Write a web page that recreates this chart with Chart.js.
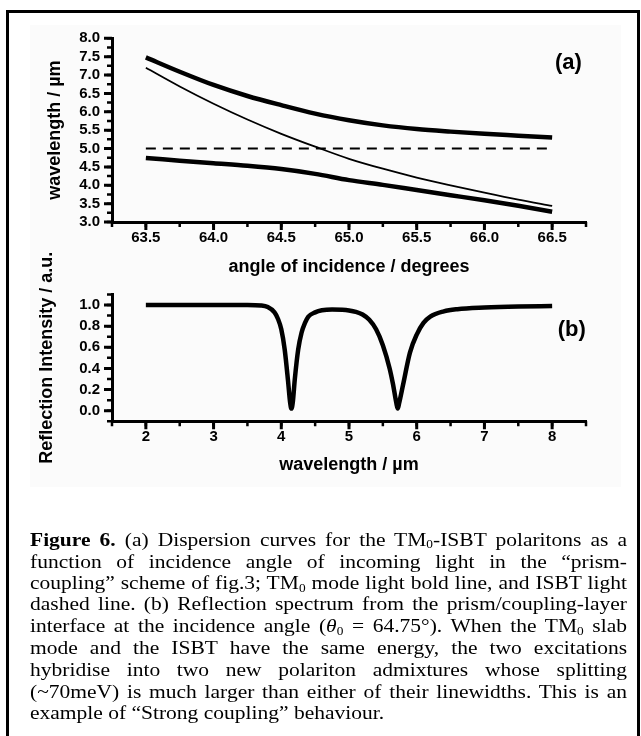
<!DOCTYPE html>
<html><head><meta charset="utf-8">
<script src="https://cdn.jsdelivr.net/npm/chart.js@4.4.1/dist/chart.umd.min.js"></script>
<style>
html,body{margin:0;padding:0;background:#fff;}
body{width:641px;height:736px;overflow:hidden;position:relative;}
#frame{position:absolute;left:6px;top:10px;width:634px;height:760px;border:3px solid #000;box-sizing:border-box;}
#panel{position:absolute;left:30px;top:25px;width:591px;height:462px;background:#fbfbfb;}
canvas{position:absolute;left:0;top:0;}
#cap{position:absolute;left:30px;top:529px;width:597px;font-family:'Liberation Serif','Times New Roman',serif;font-size:21.5px;line-height:24.8px;color:#000;transform:scaleY(0.875);transform-origin:0 0;}
#cap div{text-align:justify;text-align-last:justify;}
#cap div.last{text-align:left;text-align-last:left;}
sub{font-size:0.62em;vertical-align:-0.22em;line-height:0;}
</style></head>
<body>
<div id="frame"></div>
<div id="panel"></div>
<canvas id="ca" width="641" height="736"></canvas>
<canvas id="cb" width="641" height="736"></canvas>
<div id="cap">
<div><b>Figure 6.</b> (a) Dispersion curves for the TM<sub>0</sub>-ISBT polaritons as a</div>
<div>function of incidence angle of incoming light in the “prism-</div>
<div>coupling” scheme of fig.3; TM<sub>0</sub> mode light bold line, and ISBT light</div>
<div>dashed line. (b) Reflection spectrum from the prism/coupling-layer</div>
<div>interface at the incidence angle (<i>θ</i><sub>0</sub> = 64.75°). When the TM<sub>0</sub> slab</div>
<div>mode and the ISBT have the same energy, the two excitations</div>
<div>hybridise into two new polariton admixtures whose splitting</div>
<div>(~70meV) is much larger than either of their linewidths. This is an</div>
<div class="last">example of “Strong coupling” behaviour.</div>
</div>
<script>
// ---------- data: panel (a) ----------
const angles = [63.5, 63.75, 64.0, 64.25, 64.5, 64.75, 65.0, 65.25, 65.5, 65.75, 66.0, 66.25, 66.5];
const upperPolariton = [7.48, 7.09, 6.73, 6.43, 6.18, 5.95, 5.77, 5.63, 5.53, 5.46, 5.40, 5.35, 5.30];
const tm0Mode = [7.20, 6.69, 6.22, 5.79, 5.40, 5.05, 4.72, 4.45, 4.21, 4.00, 3.80, 3.61, 3.44];
const lowerPolariton = [4.74, 4.67, 4.60, 4.53, 4.44, 4.31, 4.14, 4.01, 3.87, 3.73, 3.59, 3.44, 3.28];
const isbtAngles = [63.5, 66.5];
const isbtLevel = [5.0, 5.0];
const angleTicks = [63.5, 64.0, 64.5, 65.0, 65.5, 66.0, 66.5];
const wavelengthTicksA = [3.0, 3.5, 4.0, 4.5, 5.0, 5.5, 6.0, 6.5, 7.0, 7.5, 8.0];

// ---------- data: panel (b) ----------
const wavelengths = [2.0, 3.0, 3.5, 3.7, 3.8, 3.9, 3.95, 4.0, 4.05, 4.1, 4.13, 4.15, 4.17, 4.2, 4.25, 4.3, 4.35, 4.4, 4.5, 4.6, 4.75, 4.9, 5.0, 5.1, 5.2, 5.3, 5.4, 5.5, 5.6, 5.65, 5.70, 5.72, 5.74, 5.8, 5.9, 6.0, 6.1, 6.2, 6.4, 6.6, 7.0, 7.5, 8.0];
const reflectance = [1.0, 1.0, 1.0, 0.995, 0.98, 0.93, 0.87, 0.77, 0.58, 0.28, 0.08, 0.02, 0.08, 0.30, 0.58, 0.74, 0.83, 0.89, 0.93, 0.95, 0.958, 0.955, 0.948, 0.935, 0.91, 0.86, 0.77, 0.62, 0.40, 0.25, 0.07, 0.02, 0.07, 0.25, 0.55, 0.72, 0.83, 0.89, 0.94, 0.96, 0.975, 0.985, 0.99];
const wavelengthTicksB = [2, 3, 4, 5, 6, 7, 8];
const intensityTicks = [0.0, 0.2, 0.4, 0.6, 0.8, 1.0];

// ---------- helpers ----------
const SANS = "'Liberation Sans', Arial, Helvetica, sans-serif";
const fontTick = {family: SANS, size: 15, weight: 'bold'};
const fontTitle = {family: SANS, size: 18, weight: 'bold'};
const pts = (xs, ys) => xs.map((x, i) => ({x, y: ys[i]}));
function steps(min, max, step) { const out = []; for (let v = min; v <= max + 1e-9; v += step) out.push(+v.toFixed(4)); return out; }

function tickPlugin(cfg) {
  return {
    id: 'tickMarks',
    afterDraw(chart) {
      const ctx = chart.ctx, a = chart.chartArea;
      ctx.save();
      ctx.strokeStyle = '#000';
      for (const id of Object.keys(cfg)) {
        const s = chart.scales[id], c = cfg[id];
        const draw = (vals, len, w) => {
          ctx.lineWidth = w; ctx.beginPath();
          vals.forEach(v => {
            const p = s.getPixelForValue(v);
            if (s.isHorizontal()) { ctx.moveTo(p, a.bottom); ctx.lineTo(p, a.bottom + len); }
            else { ctx.moveTo(a.left, p); ctx.lineTo(a.left - len, p); }
          });
          ctx.stroke();
        };
        draw(c.minor, 5, 2.5);
        draw(c.major, 8, 3);
      }
      ctx.restore();
    }
  };
}
function panelLabel(text, xv, yv) {
  return {
    id: 'panelLabel',
    afterDraw(chart) {
      const ctx = chart.ctx;
      ctx.save();
      ctx.font = "bold 22px " + SANS;
      ctx.fillStyle = '#000'; ctx.textAlign = 'center'; ctx.textBaseline = 'middle';
      ctx.fillText(text, chart.scales.x.getPixelForValue(xv), chart.scales.y.getPixelForValue(yv));
      ctx.restore();
    }
  };
}
const baseLine = {showLine: true, borderColor: '#000', pointRadius: 0, fill: false, cubicInterpolationMode: 'monotone'};
const axisBorder = {display: true, width: 3, color: '#000'};

// ---------- chart (a) ----------
new Chart(document.getElementById('ca'), {
  type: 'scatter',
  data: {datasets: [
    {...baseLine, data: pts(angles, upperPolariton), borderWidth: 4.5},
    {...baseLine, data: pts(angles, tm0Mode), borderWidth: 1.8},
    {...baseLine, data: pts(angles, lowerPolariton), borderWidth: 4.5},
    {...baseLine, data: pts(isbtAngles, isbtLevel), borderWidth: 2, borderDash: [10, 7]}
  ]},
  options: {
    responsive: false, animation: false, devicePixelRatio: 1,
    layout: {padding: {left: 0, right: 55, top: 38.3, bottom: 446}},
    plugins: {legend: {display: false}, tooltip: {enabled: false}},
    scales: {
      x: {type: 'linear', min: 63.25, max: 66.75,
        afterBuildTicks: s => { s.ticks = angleTicks.map(v => ({value: v})); },
        afterFit: s => { s.height = 68; },
        grid: {display: false, drawTicks: false}, border: axisBorder,
        ticks: {font: fontTick, color: '#000', padding: 7, maxRotation: 0, autoSkip: false, callback: v => Number(v).toFixed(1)},
        title: {display: true, text: 'angle of incidence / degrees', font: fontTitle, color: '#000', padding: {top: 0, bottom: 12}}},
      y: {type: 'linear', min: 3, max: 8,
        afterBuildTicks: s => { s.ticks = wavelengthTicksA.map(v => ({value: v})); },
        afterFit: s => { s.width = 112; },
        grid: {display: false, drawTicks: false}, border: axisBorder,
        ticks: {font: fontTick, color: '#000', padding: 12, autoSkip: false, callback: v => Number(v).toFixed(1)},
        title: {display: true, text: 'wavelength / µm', font: fontTitle, color: '#000', padding: {top: 44, bottom: 0}}}
    }
  },
  plugins: [tickPlugin({x: {major: angleTicks, minor: steps(63.25, 66.75, 0.25)}, y: {major: wavelengthTicksA, minor: steps(3, 8, 0.25)}}), panelLabel('(a)', 66.62, 7.32)]
});

// ---------- chart (b) ----------
new Chart(document.getElementById('cb'), {
  type: 'scatter',
  data: {datasets: [
    {...baseLine, data: pts(wavelengths, reflectance), borderWidth: 4.5}
  ]},
  options: {
    responsive: false, animation: false, devicePixelRatio: 1,
    layout: {padding: {left: 0, right: 55, top: 294.4, bottom: 254.7}},
    plugins: {legend: {display: false}, tooltip: {enabled: false}},
    scales: {
      x: {type: 'linear', min: 1.5, max: 8.5,
        afterBuildTicks: s => { s.ticks = wavelengthTicksB.map(v => ({value: v})); },
        afterFit: s => { s.height = 60; },
        grid: {display: false, drawTicks: false}, border: axisBorder,
        ticks: {font: fontTick, color: '#000', padding: 7, maxRotation: 0, autoSkip: false, callback: v => String(v)},
        title: {display: true, text: 'wavelength / µm', font: fontTitle, color: '#000', padding: {top: 0, bottom: 5.5}}},
      y: {type: 'linear', min: -0.1, max: 1.1,
        afterBuildTicks: s => { s.ticks = intensityTicks.map(v => ({value: v})); },
        afterFit: s => { s.width = 112; },
        grid: {display: false, drawTicks: false}, border: axisBorder,
        ticks: {font: fontTick, color: '#000', padding: 12, autoSkip: false, callback: v => Number(v).toFixed(1)},
        title: {display: true, text: 'Reflection Intensity / a.u.', font: fontTitle, color: '#000', padding: {top: 36, bottom: 0}}}
    }
  },
  plugins: [tickPlugin({x: {major: wavelengthTicksB, minor: steps(1.5, 8.5, 0.5)}, y: {major: intensityTicks, minor: steps(-0.1, 1.1, 0.1)}}), panelLabel('(b)', 8.29, 0.76)]
});
</script>
</body></html>
